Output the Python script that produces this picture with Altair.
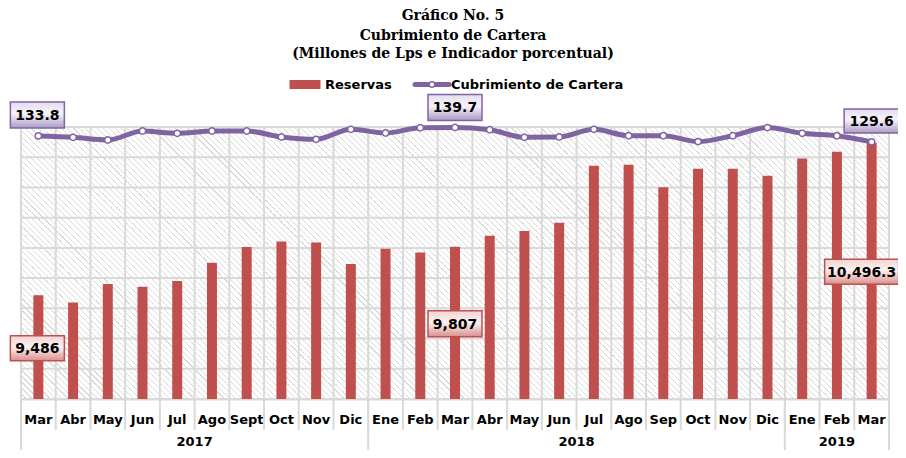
import altair as alt
import pandas as pd

# ---------------- data ----------------
meses = ["Mar", "Abr", "May", "Jun", "Jul", "Ago", "Sept", "Oct", "Nov", "Dic",
         "Ene", "Feb", "Mar", "Abr", "May", "Jun", "Jul", "Ago", "Sep", "Oct", "Nov", "Dic",
         "Ene", "Feb", "Mar"]
anios = ["2017", "2017", "2017", "2017", "2017", "2017", "2017", "2017", "2017", "2017",
         "2018", "2018", "2018", "2018", "2018", "2018", "2018", "2018", "2018", "2018", "2018", "2018",
         "2019", "2019", "2019"]
reservas = [9486, 9438, 9561, 9543, 9581, 9702, 9806, 9843, 9835, 9694,
            9795, 9769, 9807, 9881, 9912, 9967, 10344, 10351, 10201, 10324, 10324, 10278,
            10391, 10437, 10496.3]
cubrimiento = [133.8, 132.8, 130.9, 137.2, 135.6, 137.2, 137.2, 133.0, 131.4, 138.4,
               135.8, 139.5, 139.7, 138.1, 132.8, 133.0, 138.4, 133.9, 133.9, 129.8, 133.9, 139.6,
               135.6, 133.9, 129.6]
grid_values = [8800, 9000, 9200, 9400, 9600, 9800, 10000, 10200, 10400, 10600]
years = ["2017", "2018", "2019"]
titulo = ["Gráfico No. 5", "Cubrimiento de Cartera", "(Millones de Lps e Indicador porcentual)"]
leyenda = ["Reservas", "Cubrimiento de Cartera"]

keys = [f"{m} {a}" for m, a in zip(meses, anios)]
df = pd.DataFrame({"key": keys, "mes": meses, "anio": anios,
                   "reservas": reservas, "cubrimiento": cubrimiento})

# ---------------- style ----------------
W, H = 868, 272
PAD_L, PAD_T, PAD_R, PAD_B = 13, 119, 9, 51   # svg 890 x 442 fits the 906 x 458 page
HALF = W / len(keys) / 2
RED = "#C0504D"
PURPLE = "#8064A2"
GRID = "#d9d9d9"
FONT = "DejaVu Sans"

xscale = alt.Scale(domain=keys, paddingInner=0, paddingOuter=0)
xaxis = alt.Axis(title=None, grid=False, ticks=False, domainColor=GRID, domainWidth=2,
                 labelExpr="split(datum.label, ' ')[0]", labelFont=FONT, labelFontSize=13,
                 labelFontWeight="bold", labelColor="black", labelBaseline="middle",
                 labelPadding=20, labelAngle=0)
bar_scale = alt.Scale(domain=[8800, 10600], zero=False, nice=False)
line_scale = alt.Scale(domain=[-50, 140], zero=False, nice=False)


def xenc():
    return alt.X("key:N", scale=xscale, axis=xaxis)


# hatched background (diagonal stripes built as a linear gradient)
periods = 190
frac = 0.25
stops = []
for i in range(periods):
    a = i / periods
    b = (i + 1 - frac) / periods
    c = (i + 1) / periods
    stops += [alt.GradientStop(offset=a, color="#ffffff"),
              alt.GradientStop(offset=b, color="#ffffff"),
              alt.GradientStop(offset=b, color="#d9d9d9"),
              alt.GradientStop(offset=c, color="#d9d9d9")]
s = (W + H) / (W + H * H / W)
hatch_grad = alt.LinearGradient(gradient="linear", stops=stops,
                                x1=0, y1=1, x2=s, y2=1 - s * H / W)

one = pd.DataFrame({"a": [0]})
hatch = alt.Chart(one).mark_rect(fill=hatch_grad).encode(
    x=alt.value(0), x2=alt.value("width"), y=alt.value(0), y2=alt.value("height"))

# vertical grid: one line at the start of each month
vgrid = alt.Chart(df).mark_rule(color=GRID, strokeWidth=2, xOffset=-HALF).encode(
    x=xenc(), y=alt.value(0), y2=alt.value("height"))
# month dividers through the month-label row
month_div = alt.Chart(df).mark_rule(color=GRID, strokeWidth=2, xOffset=-HALF).encode(
    x=xenc(), y=alt.value(H), y2=alt.value(H + 31))
vgrid_end = alt.Chart(df.tail(1)).mark_rule(color=GRID, strokeWidth=2, xOffset=HALF).encode(
    x=xenc(), y=alt.value(0), y2=alt.value(H + PAD_B))
year_starts = df.drop_duplicates("anio")
year_div = alt.Chart(year_starts).mark_rule(color=GRID, strokeWidth=2, xOffset=-HALF).encode(
    x=xenc(), y=alt.value(H), y2=alt.value(H + PAD_B))
hgrid = alt.Chart(pd.DataFrame({"v": grid_values})).mark_rule(color=GRID, strokeWidth=2).encode(
    y=alt.Y("v:Q", scale=bar_scale, axis=None), x=alt.value(0), x2=alt.value("width"))

bars = alt.Chart(df).mark_bar(size=10, color=RED, clip=True).encode(
    x=xenc(), y=alt.Y("reservas:Q", scale=bar_scale, axis=None))

line = alt.Chart(df).mark_line(color=PURPLE, strokeWidth=5, interpolate="monotone").encode(
    x=xenc(), y=alt.Y("cubrimiento:Q", scale=line_scale, axis=None))
pts = alt.Chart(df).mark_point(filled=True, fill="white", stroke=PURPLE, strokeWidth=1.5,
                               size=40, opacity=1).encode(
    x=xenc(), y=alt.Y("cubrimiento:Q", scale=line_scale, axis=None))

# year labels, centred under each year's months
groups = df.groupby("anio")["key"].apply(list)
yl_rows = []
for y in years:
    ks = groups[y]
    n = len(ks)
    yl_rows.append({"anio": y, "key": ks[n // 2], "even": n % 2 == 0})
yl = pd.DataFrame(yl_rows)
year_layers = []
for even in [True, False]:
    sub = yl[yl["even"] == even]
    year_layers.append(
        alt.Chart(sub).mark_text(font=FONT, fontSize=13, fontWeight="bold", color="black",
                                 baseline="middle", align="center",
                                 xOffset=-HALF if even else 0).encode(
            x=xenc(), y=alt.value(H + 43), text="anio:N"))

# value labels in boxes
red_grad = alt.LinearGradient(gradient="linear", x1=0, x2=0, y1=0, y2=1, stops=[
    alt.GradientStop(offset=0, color="#f2d4d3"),
    alt.GradientStop(offset=0.45, color="#fcf1f1"),
    alt.GradientStop(offset=1, color="#d98f8d")])
pur_grad = alt.LinearGradient(gradient="linear", x1=0, x2=0, y1=0, y2=1, stops=[
    alt.GradientStop(offset=0, color="#e4dcee"),
    alt.GradientStop(offset=0.45, color="#f6f3f9"),
    alt.GradientStop(offset=1, color="#ad9bc6")])


def box_path(w, h):
    r = h / w
    return f"M-1,{-r}L1,{-r}L1,{r}L-1,{r}Z"


label_specs = [
    # key, field, format, dx, dy, box w, box h, gradient, stroke
    ("Mar 2017", "reservas", ",.0f", -1, 53, 54, 25, red_grad, RED),
    ("Mar 2018", "reservas", ",.0f", 0, 77, 54, 26, red_grad, RED),
    ("Mar 2019", "reservas", ",.1f", -10, 129, 74, 25, red_grad, RED),
    ("Mar 2017", "cubrimiento", ".1f", -1, -21, 54, 26, pur_grad, PURPLE),
    ("Mar 2018", "cubrimiento", ".1f", 0, -20, 54, 26, pur_grad, PURPLE),
    ("Mar 2019", "cubrimiento", ".1f", 0, -21, 55, 24, pur_grad, PURPLE),
]
label_layers = []
for key, field, fmt, dx, dy, bw, bh, grad, stroke in label_specs:
    sub = df[df["key"] == key]
    sc = bar_scale if field == "reservas" else line_scale
    enc_y = alt.Y(f"{field}:Q", scale=sc, axis=None)
    box = alt.Chart(sub).mark_point(shape=box_path(bw, bh), size=bw * bw, filled=True,
                                    fill=grad, stroke=stroke, strokeWidth=1.5, opacity=1,
                                    xOffset=dx, yOffset=dy).encode(x=xenc(), y=enc_y)
    txt = alt.Chart(sub).mark_text(font=FONT, fontSize=14, fontWeight="bold", color="black",
                                   align="center", baseline="middle",
                                   xOffset=dx, yOffset=dy + 1).encode(
        x=xenc(), y=enc_y, text=alt.Text(f"{field}:Q", format=fmt))
    label_layers += [box, txt]

# title (three centred lines above the plot)
title_df = pd.DataFrame({"t": titulo, "py": [-111, -91.5, -73]})
title = alt.Chart(title_df).mark_text(font="DejaVu Serif", fontSize=14, fontWeight="bold",
                                      color="black", align="center", baseline="middle").encode(
    x=alt.value(W / 2 - 2), y=alt.Y("py:Q", scale=None, axis=None), text="t:N")

# legend
LY = -42.5
leg_rect = alt.Chart(one).mark_point(shape=box_path(31, 9), size=31 * 31, filled=True,
                                     fill=RED, opacity=1).encode(
    x=alt.value(284), y=alt.value(LY))
leg_line = alt.Chart(one).mark_rule(color=PURPLE, strokeWidth=5, strokeCap="round").encode(
    x=alt.value(394), x2=alt.value(428), y=alt.value(LY))
leg_pt = alt.Chart(one).mark_point(filled=True, fill="white", stroke=PURPLE, strokeWidth=1.5,
                                   size=30, opacity=1).encode(x=alt.value(411), y=alt.value(LY))
leg_txt = alt.Chart(pd.DataFrame({"t": leyenda, "px": [304, 430]})).mark_text(
    font=FONT, fontSize=13, fontWeight="bold", color="black", align="left",
    baseline="middle").encode(x=alt.X("px:Q", scale=None, axis=None), y=alt.value(LY), text="t:N")

chart = alt.layer(
    hatch, vgrid, vgrid_end, year_div, hgrid, bars, month_div, line, pts,
    *year_layers, *label_layers, title, leg_rect, leg_line, leg_pt, leg_txt
).resolve_scale(y="independent", x="shared").properties(
    width=W, height=H,
    autosize=alt.AutoSizeParams(type="none"),
    padding={"left": PAD_L, "top": PAD_T, "right": PAD_R, "bottom": PAD_B},
).configure_view(stroke=None)

chart.save("out.html", embed_options={"renderer": "svg", "actions": False})
